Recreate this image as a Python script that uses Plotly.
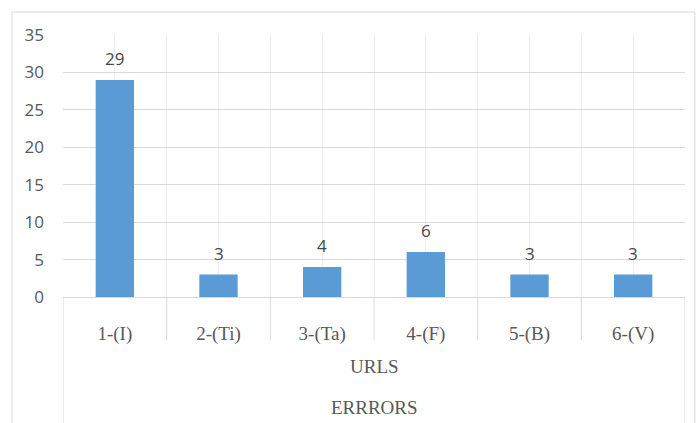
import plotly.graph_objects as go

# Error counts per URL category
categories = ["1-(I)", "2-(Ti)", "3-(Ta)", "4-(F)", "5-(B)", "6-(V)"]
counts = [29, 3, 4, 6, 3, 3]
group_label = "URLS"
outer_label = "ERRRORS"
y_ticks = [0, 5, 10, 15, 20, 25, 30, 35]

bar_color = "#5B9BD5"
text_color = "#595959"
grid_color = "#d9d9d9"
light_grid = "#efefef"
serif = "Liberation Serif, Times New Roman, serif"
sans = "Open Sans, Arial, sans-serif"

idx = list(range(len(categories)))

fig = go.Figure()
fig.add_trace(go.Bar(
    x=idx, y=counts, width=0.37,
    marker=dict(color=bar_color, line=dict(width=0)),
    hoverinfo="skip",
))

# value labels above each bar
for i, v in zip(idx, counts):
    fig.add_annotation(
        x=i, y=v, text=str(v), showarrow=False,
        yanchor="bottom", yshift=8,
        font=dict(family=sans, size=17, color="#474747"),
    )

# multi-level category axis: separators between categories
n = len(categories)
for b in range(n + 1):
    edge = b in (0, n)
    fig.add_shape(
        type="line", xref="x", yref="paper",
        x0=b - 0.5, x1=b - 0.5, y0=0, y1=-0.52 if edge else -0.165,
        line=dict(color=grid_color, width=1), layer="below",
    )

fig.add_annotation(
    x=(n - 1) / 2, xref="x", y=-0.267, yref="paper", text=group_label,
    showarrow=False, yanchor="middle",
    font=dict(family=serif, size=19, color=text_color),
)
fig.add_annotation(
    x=(n - 1) / 2, xref="x", y=-0.42, yref="paper", text=outer_label,
    showarrow=False, yanchor="middle",
    font=dict(family=serif, size=19, color=text_color),
)

# chart frame
fig.add_shape(
    type="rect", xref="paper", yref="paper",
    x0=-0.082, x1=1.016, y0=-0.6, y1=1.0878,
    line=dict(color="#d9d9d9", width=1), layer="below",
)

fig.update_layout(
    width=696, height=423,
    margin=dict(l=63, r=11, t=35, b=126),
    paper_bgcolor="white", plot_bgcolor="white",
    showlegend=False,
    xaxis=dict(
        range=[-0.5, n - 0.5],
        tickmode="array", tickvals=idx, ticktext=categories,
        tickfont=dict(family=serif, size=19, color=text_color),
        ticks="", ticklabelstandoff=19,
        showgrid=True, gridcolor=light_grid, gridwidth=1,
        minor=dict(tickmode="array", tickvals=[b - 0.5 for b in range(1, n)],
                   showgrid=True, gridcolor=light_grid, gridwidth=1),
        showline=True, linecolor=grid_color, linewidth=1,
        zeroline=False, fixedrange=True,
    ),
    yaxis=dict(
        range=[0, 35], tickmode="array", tickvals=y_ticks,
        tickfont=dict(family=sans, size=17, color=text_color),
        ticks="", ticklabelstandoff=18,
        showgrid=True, gridcolor=grid_color, gridwidth=1,
        zeroline=False, showline=False, fixedrange=True,
    ),
)

fig.write_html("out.html")
